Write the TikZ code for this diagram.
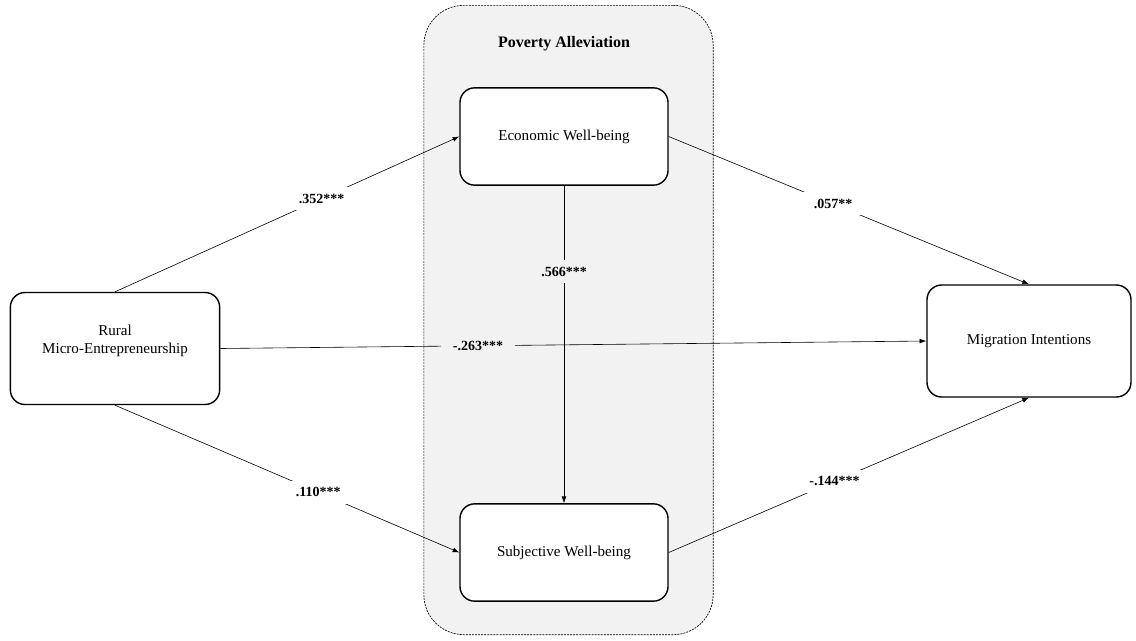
\documentclass[tikz,border=0pt]{standalone}
\usepackage{fontspec}
\setmainfont{Liberation Serif}
\usetikzlibrary{arrows.meta}

\definecolor{panelgray}{HTML}{F2F2F2}

\tikzset{
  varbox/.style={draw, line width=1.05pt, rounded corners=11pt, fill=white,
    align=center, font=\fontsize{11.3}{13.5}\selectfont, inner sep=0pt},
  effect/.style={draw, line width=0.45pt, -{Latex[length=5pt,width=3.6pt]}},
  coef/.style={font=\bfseries\fontsize{10.5}{12}\selectfont, inner xsep=9pt, inner ysep=5pt}
}

\begin{document}
\begin{tikzpicture}[x=0.75pt,y=-0.75pt]
\useasboundingbox (0,0) rectangle (1136,640);
% mediator panel
\node (panel) [draw, dash pattern=on 1.5pt off 0.8pt, line width=0.5pt, fill=panelgray,
  rounded corners=30pt, minimum width=217pt, minimum height=472pt] at (568.5,320) {};
\node (title) [font=\bfseries\fontsize{12}{14}\selectfont] at (564,44) {Poverty Alleviation};

% variables
\node (rme) [varbox, minimum width=157pt, minimum height=84pt] at (115,348.5) {};
\node (rmetext) [varbox, draw=none, fill=none] at (115,340.5) {Rural\\Micro-Entrepreneurship};
\node (ewb) [varbox, minimum width=156pt, minimum height=73pt] at (564,136.5) {Economic Well-being};
\node (swb) [varbox, minimum width=156pt, minimum height=73pt] at (564,552.5) {Subjective Well-being};
\node (mig) [varbox, minimum width=153pt, minimum height=84pt] at (1029,341) {Migration Intentions};

% paths
\draw [effect] (rme.north) -- node[coef, fill=white, pos=0.6] {.352***} (ewb.west);
\draw [effect] (rme.south) -- node[coef, fill=white, pos=0.59] {.110***} (swb.west);
\draw [effect] (rme.east) -- node[coef, fill=panelgray, pos=0.365] {-.263***} (mig.west);
\draw [effect] (ewb.south) -- node[coef, fill=panelgray, pos=0.27] {.566***} (swb.north);
\draw [effect] (ewb.east) -- node[coef, fill=white, pos=0.456] {.057**} (mig.north);
\draw [effect] (swb.east) -- node[coef, fill=white, pos=0.46] {-.144***} (mig.south);
\end{tikzpicture}
\end{document}
